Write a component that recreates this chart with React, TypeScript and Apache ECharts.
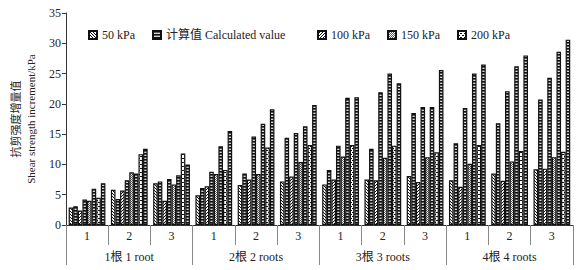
import React, { useEffect, useRef } from 'react';
import * as echarts from 'echarts';

const subCategories = ['1', '2', '3', '1', '2', '3', '1', '2', '3', '1', '2', '3'];
const rootCategories = ['1根 1 root', '2根 2 roots', '3根 3 roots', '4根 4 roots'];
const legendA = ['50 kPa', '计算值 Calculated value'];
const legendB = ['100 kPa', '150 kPa', '200 kPa'];
const calcName = '计算值 Calculated value';

const measured50 = [2.9, 5.8, 6.9, 4.9, 6.6, 7.2, 6.7, 7.5, 8.1, 7.4, 8.5, 9.2];
const calc50 = [3.1, 4.3, 7.2, 6.1, 8.5, 14.4, 9.1, 12.6, 18.5, 13.5, 16.8, 20.7];
const measured100 = [2.4, 5.7, 4.0, 6.4, 7.5, 8.0, 7.5, 7.4, 7.1, 6.3, 7.3, 9.3];
const calc100 = [4.2, 7.4, 7.6, 8.8, 14.6, 15.2, 13.1, 21.9, 19.5, 19.3, 22.1, 24.3];
const measured150 = [4.0, 8.7, 6.7, 8.4, 8.4, 10.4, 11.3, 11.1, 11.2, 10.1, 10.5, 11.2];
const calc150 = [6.0, 8.5, 8.2, 13.0, 16.7, 16.3, 21.0, 25.0, 19.5, 25.0, 26.2, 28.6];
const measured200 = [4.5, 11.7, 11.8, 9.1, 12.8, 13.2, 13.2, 13.1, 12.0, 13.2, 12.2, 12.1];
const calc200 = [6.9, 12.6, 10.0, 15.5, 19.1, 19.8, 21.1, 23.4, 25.6, 26.5, 28.0, 30.6];

const FONT = "'Liberation Serif', 'Times New Roman', 'Noto Sans CJK SC', serif";

function makePattern(rows: string[], colors: Record<string, string>) {
  const h = rows.length;
  const w = rows[0].length;
  const c = document.createElement('canvas');
  c.width = w;
  c.height = h;
  const ctx = c.getContext('2d')!;
  for (let y = 0; y < h; y++) {
    for (let x = 0; x < w; x++) {
      const ch = rows[y][x];
      ctx.fillStyle = colors[ch] || '#ffffff';
      ctx.fillRect(x, y, 1, 1);
    }
  }
  return { image: c, repeat: 'repeat', imageWidth: w, imageHeight: h } as any;
}

export default function App() {
  const ref = useRef<HTMLDivElement>(null);
  useEffect(() => {
    if (!ref.current) return;
    const chart = echarts.init(ref.current, undefined, { renderer: 'svg' });
    const pal = { X: '#111111', '.': '#ffffff', G: '#8a8a8a', L: '#d8d8d8', M: '#5a5a5a' };
    const p50 = makePattern(['X..', '.X.', '..X'], pal);
    const p100 = makePattern(['..X', '.X.', 'X..'], pal);
    const pCalc = makePattern(['X', 'M', 'L'], pal);
    const p150 = makePattern(['M.', '.M'], pal);
    const p200 = makePattern(['XX..', '....', '..XX', '....'], pal);

    const mk = (name: string, data: number[], pat: any) => ({
      type: 'bar',
      name,
      data,
      xAxisIndex: 0,
      barGap: '0%',
      barCategoryGap: '13%',
      itemStyle: { color: pat, borderColor: '#111', borderWidth: 1.2 },
    });

    const legendCommon = {
      top: 24,
      itemWidth: 8,
      itemHeight: 8,
      itemGap: 17,
      icon: 'rect',
      textStyle: { fontFamily: FONT, fontSize: 12, color: '#222' },
    };

    chart.setOption({
      animation: false,
      grid: { left: 57, right: 10, top: 13, bottom: 45 },
      legend: [
        { ...legendCommon, left: 83, data: legendA },
        { ...legendCommon, left: 312, data: legendB },
      ],
      xAxis: [
        {
          type: 'category',
          data: subCategories,
          axisLine: { lineStyle: { color: '#333' } },
          axisTick: { show: true, interval: 0, length: 20, lineStyle: { color: '#888' } },
          axisLabel: { interval: 0, fontSize: 12, margin: 5, color: '#222', fontFamily: FONT },
        },
        {
          type: 'category',
          data: rootCategories,
          position: 'bottom',
          axisLine: { show: false },
          axisTick: { show: true, interval: 0, length: 40, lineStyle: { color: '#888' } },
          axisLabel: { interval: 0, fontSize: 12, margin: 26, color: '#222', fontFamily: FONT },
        },
      ],
      yAxis: {
        type: 'value',
        min: 0,
        max: 35,
        interval: 5,
        splitLine: { show: false },
        axisLine: { show: true, lineStyle: { color: '#333' } },
        axisTick: { show: true, length: 4, lineStyle: { color: '#333' } },
        axisLabel: { fontSize: 12, margin: 5, color: '#222', fontFamily: FONT },
        name: '抗剪强度增量值\nShear strength increment/kPa',
        nameLocation: 'middle',
        nameRotate: 90,
        nameGap: 15,
        nameTextStyle: { fontSize: 11, lineHeight: 15, color: '#222', fontFamily: FONT },
      },
      series: [
        mk('50 kPa', measured50, p50),
        mk(calcName, calc50, pCalc),
        mk('100 kPa', measured100, p100),
        mk(calcName, calc100, pCalc),
        mk('150 kPa', measured150, p150),
        mk(calcName, calc150, pCalc),
        mk('200 kPa', measured200, p200),
        mk(calcName, calc200, pCalc),
      ],
    });
    return () => chart.dispose();
  }, []);
  return <div ref={ref} style={{ width: 583, height: 270, position: 'absolute', left: 0, top: 0 }} />;
}
